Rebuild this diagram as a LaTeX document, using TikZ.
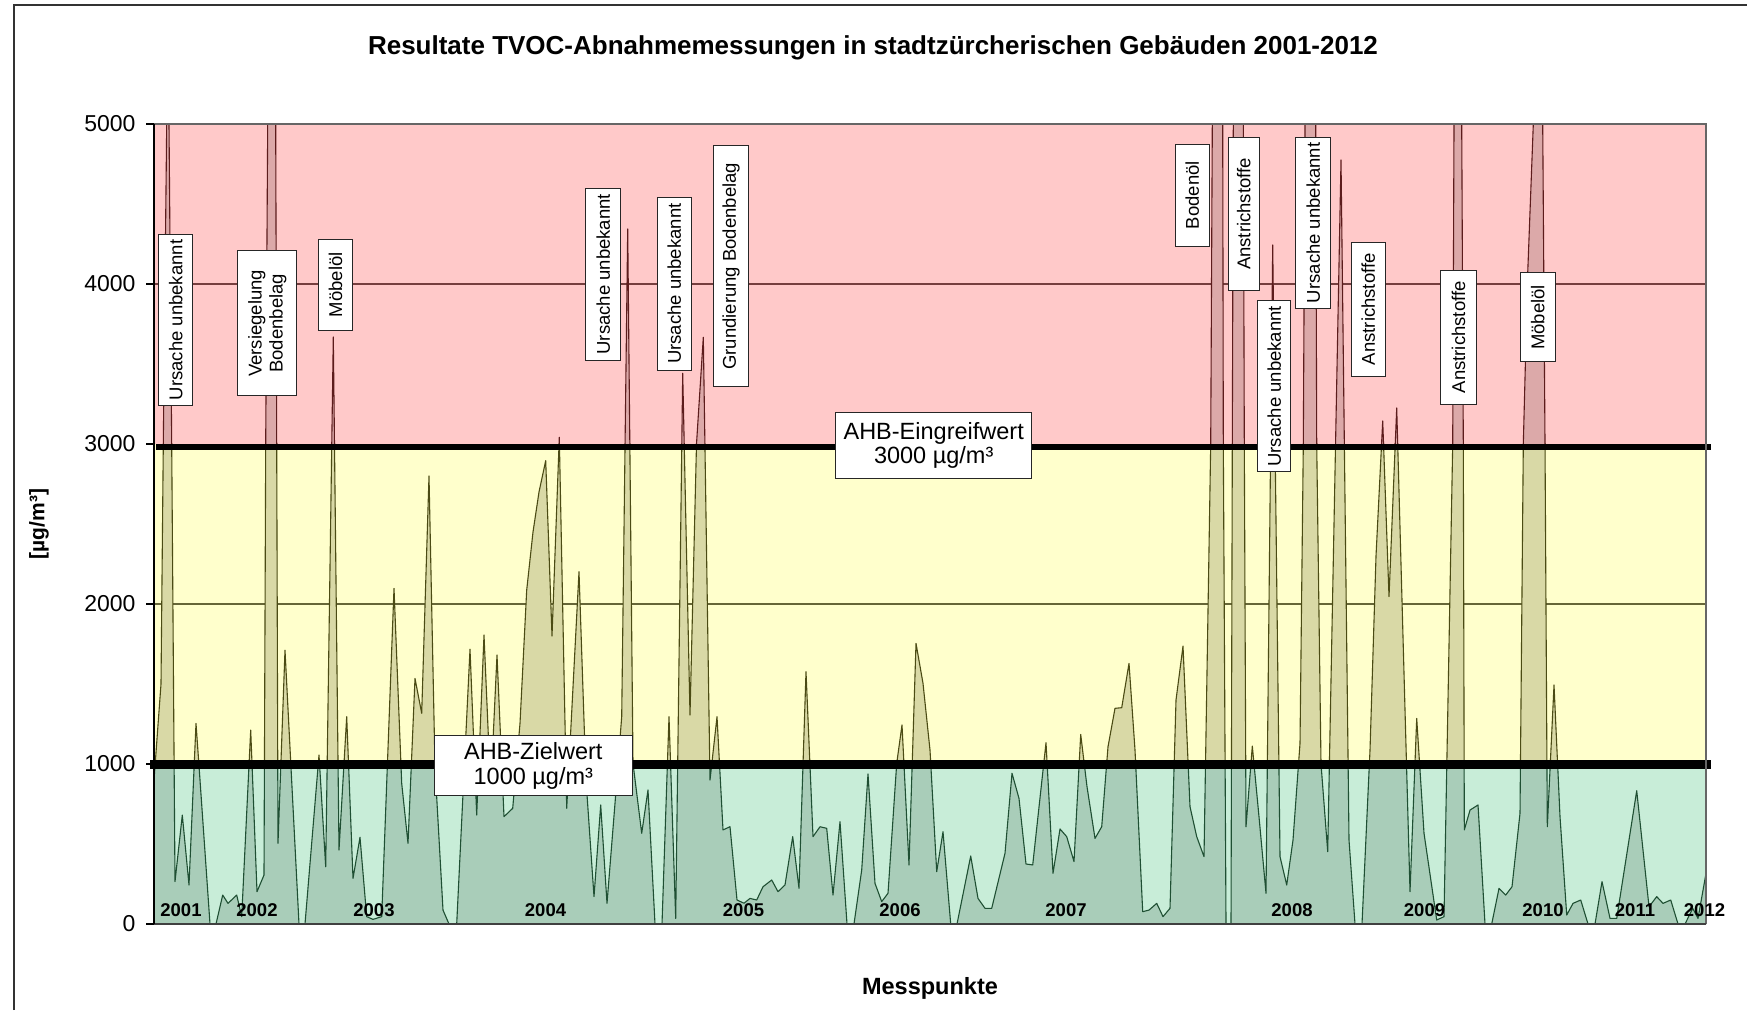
\documentclass[tikz,border=0pt]{standalone}
\usepackage{fontspec}
\setmainfont{Liberation Sans}
\usepackage{tikz}

\definecolor{bandgrn}{HTML}{C8EDD8}
\definecolor{areagrn}{HTML}{A9CDB9}
\definecolor{linegrn}{HTML}{1F4F33}
\definecolor{bandyel}{HTML}{FFFFCC}
\definecolor{areayel}{HTML}{D9D9A6}
\definecolor{lineyel}{HTML}{4B4B14}
\definecolor{bandred}{HTML}{FFC9C9}
\definecolor{areared}{HTML}{DCA9A9}
\definecolor{linered}{HTML}{5C1C1C}

\tikzset{
  cause/.style={draw=black!85, fill=white, line width=1pt, rotate=90, align=center,
    inner sep=0pt, font=\fontsize{18.5}{21}\selectfont},
  limit/.style={draw=black!85, fill=white, line width=1pt, align=center,
    inner sep=0pt, font=\fontsize{23.5}{24.5}\selectfont},
  year/.style={font=\bfseries\fontsize{18.5}{20}\selectfont},
}

% Messwerte (x in Pixel ab Achse, y in ug/m3)
\newcommand{\tvoc}{(0,0) -- (0,900) -- (7,1500) -- (9.3,3000) -- (12.7,5000) -- (14,8000)
 -- (15,5000) -- (17.7,3000) -- (21,265) -- (28.3,681) -- (35,244) -- (42,1254) -- (46,900)
 -- (56,0) -- (62,0) -- (68.7,181) -- (74,129) -- (82.7,181) -- (87.7,46) -- (96.7,1212)
 -- (103,202) -- (110,306) -- (111.7,3000) -- (113.7,5000) -- (117,9000) -- (121.7,5000)
 -- (122.7,3000) -- (124,504) -- (131,1712) -- (145,0) -- (151,0) -- (165,1056) -- (171.7,358)
 -- (179.3,3669) -- (185,462) -- (192.7,1296) -- (199,285) -- (206,542) -- (212.7,46)
 -- (219,29) -- (227.7,46) -- (240,2098) -- (247.7,879) -- (254,504) -- (261,1535)
 -- (267.7,1317) -- (275,2800) -- (281,983) -- (289,87) -- (295,0) -- (302.7,0) -- (316,1717)
 -- (322.7,681) -- (330,1806) -- (336.7,837) -- (343,1681) -- (350,671) -- (358.7,723)
 -- (366,1254) -- (372.7,2087) -- (379,2450) -- (385,2700) -- (391.7,2896) -- (398,1800)
 -- (405.3,3042) -- (412.7,723) -- (425,2202) -- (432,900) -- (440,171) -- (446.7,744)
 -- (453,129) -- (461,754) -- (467.7,1296) -- (473.7,4344) -- (479,1004) -- (487.7,567)
 -- (494,838) -- (501,0) -- (508,0) -- (515,1296) -- (521.7,35) -- (528.7,3442) -- (536,1306)
 -- (542.5,3000) -- (549.3,3667) -- (556,900) -- (563,1296) -- (569,588) -- (576,608)
 -- (583,150) -- (590,130) -- (596,160) -- (602.7,150) -- (609,233) -- (617.7,275) -- (624,202)
 -- (631,244) -- (638.7,546) -- (645,223) -- (652,1577) -- (659,546) -- (666,608)
 -- (672.7,598) -- (679,181) -- (686,640) -- (693,0) -- (700,0) -- (707.7,337) -- (714,938)
 -- (721,254) -- (727.7,140) -- (734,192) -- (742.7,1004) -- (748,1244) -- (755,369)
 -- (762,1754) -- (769,1504) -- (776,1087) -- (782.7,327) -- (789,577) -- (796.7,0) -- (803,0)
 -- (816.7,425) -- (824,160) -- (831,98) -- (837.7,98) -- (851,442) -- (858,942) -- (865,785)
 -- (872,375) -- (878.7,369) -- (892,1133) -- (899,317) -- (906,594) -- (912.7,546)
 -- (920,390) -- (926.7,1185) -- (933,858) -- (941,535) -- (947.7,608) -- (954,1108)
 -- (961,1348) -- (967.7,1352) -- (975,1629) -- (981,1087) -- (988.7,77) -- (995,87)
 -- (1002.7,129) -- (1009,46) -- (1016,98) -- (1022,1400) -- (1029,1737) -- (1036,733)
 -- (1042.7,546) -- (1050,421) -- (1056.7,3000) -- (1058.3,5000) -- (1062,9000) -- (1066,9000)
 -- (1068.7,5000) -- (1069.3,3000) -- (1072,0) -- (1077,0) -- (1078.3,3000) -- (1079.3,5000)
 -- (1084,9000) -- (1089.3,5000) -- (1090.3,3000) -- (1092,608) -- (1098.3,1112) -- (1105,670)
 -- (1112,192) -- (1118.7,4244) -- (1126,421) -- (1132.7,244) -- (1139,525) -- (1146,1129)
 -- (1149.3,3000) -- (1151,5000) -- (1156,9000) -- (1161.7,5000) -- (1162.7,3000)
 -- (1167,1000) -- (1173.7,452) -- (1187,4775) -- (1195,525) -- (1201,0) -- (1208,0)
 -- (1216,1087) -- (1222,2300) -- (1228.7,3144) -- (1235,2046) -- (1242.7,3225) -- (1256,202)
 -- (1262.7,1285) -- (1270,567) -- (1282.7,25) -- (1290,46) -- (1298.7,3000) -- (1300,5000)
 -- (1304,9000) -- (1307.7,5000) -- (1309.3,3000) -- (1310.3,588) -- (1316,712) -- (1324,744)
 -- (1331,0) -- (1337.7,0) -- (1345,223) -- (1351.7,181) -- (1358,233) -- (1366,692)
 -- (1369.3,3000) -- (1373.7,4069) -- (1379.3,5000) -- (1384,9000) -- (1388.7,5000)
 -- (1391,3000) -- (1393.3,608) -- (1400,1494) -- (1406,670) -- (1412.7,56) -- (1419,129)
 -- (1426.7,150) -- (1434,0) -- (1441,0) -- (1448,265) -- (1456,35) -- (1462.7,35)
 -- (1482.7,833) -- (1495,108) -- (1502.7,171) -- (1509,129) -- (1516.7,150) -- (1524,0)
 -- (1531,0) -- (1538.7,98) -- (1544,35) -- (1552,317) -- (1552,0) -- cycle}

\begin{document}
\begin{tikzpicture}[x=1pt,y=-1pt] % TVOC
  \useasboundingbox (0,0) rectangle (1747,1010);
  \draw[line width=2pt, black!80] (13.5,1010) -- (13.5,5) -- (1747,5);

  \node[font=\bfseries\fontsize{26}{28}\selectfont] (title) at (873,48)
    {Resultate TVOC-Abnahmemessungen in stadtzürcherischen Gebäuden 2001-2012};

  \begin{scope}[shift={(154,924)}, x=1pt, y=0.16pt]
    \fill[bandgrn] (0,0) rectangle (1552,1000);
    \fill[bandyel] (0,1000) rectangle (1552,3000);
    \fill[bandred] (0,3000) rectangle (1552,5000);
    \draw[line width=1.2pt, linered!85] (0,4000) -- (1552,4000);
    \draw[line width=1.2pt, lineyel!85] (0,2000) -- (1552,2000);

    \foreach \band/\lo/\hi in {grn/0/1000, yel/1000/3000, red/3000/5000} {
      \begin{scope}
        \clip (0,\lo) rectangle (1552,\hi);
        \filldraw[fill=area\band, draw=line\band, line width=1.1pt, line join=round] \tvoc;
      \end{scope}
    }

    \draw[line width=6.5pt] (2,2981) -- (1557,2981);
    \draw[line width=9pt] (-4,1000) -- (1557,1000);

    \draw[line width=1.2pt, black!60] (0,5000) -- (1552,5000) -- (1552,0);
    \draw[line width=1.5pt, black!75] (0,0) -- (1552,0);
    \draw[line width=2.5pt] (0,0) -- (0,5000);
    \foreach \v in {0,1000,...,5000} {
      \draw[line width=1.2pt] (-8,\v) -- (0,\v);
      \node[anchor=east, font=\fontsize{23}{25}\selectfont] (tick\v) at (-15,\v) {\v};
    }

    \node[year] (y2001) at (27,87) {2001};
    \node[year] (y2002) at (103,87) {2002};
    \node[year] (y2003) at (220,87) {2003};
    \node[year] (y2004) at (391.5,87) {2004};
    \node[year] (y2005) at (589.5,87) {2005};
    \node[year] (y2006) at (746,87) {2006};
    \node[year] (y2007) at (912,87) {2007};
    \node[year] (y2008) at (1138,87) {2008};
    \node[year] (y2009) at (1270.5,87) {2009};
    \node[year] (y2010) at (1389,87) {2010};
    \node[year] (y2011) at (1481,87) {2011};
    \node[year] (y2012) at (1550.5,87) {2012};
  \end{scope}

  \node[cause, minimum width=171.4pt, minimum height=33.7pt] (c1) at (175.8,320) {Ursache unbekannt};
  \node[cause, minimum width=144.7pt, minimum height=58.7pt] (c2) at (267.3,323.3) {Versiegelung\\Bodenbelag};
  \node[cause, minimum width=90.7pt, minimum height=33.6pt] (c3) at (335.5,284.7) {Möbelöl};
  \node[cause, minimum width=171.7pt, minimum height=35.3pt] (c4) at (603.3,274.2) {Ursache unbekannt};
  \node[cause, minimum width=172.7pt, minimum height=34pt] (c5) at (674.3,283.7) {Ursache unbekannt};
  \node[cause, minimum width=240.7pt, minimum height=35.4pt] (c6) at (731,266.3) {Grundierung Bodenbelag};
  \node[cause, minimum width=101.7pt, minimum height=33.7pt] (c7) at (1192.2,195.2) {Bodenöl};
  \node[cause, minimum width=153.4pt, minimum height=30.7pt] (c8) at (1243.7,214) {Anstrichstoffe};
  \node[cause, minimum width=170.7pt, minimum height=33.3pt] (c9) at (1274.3,386.3) {Ursache unbekannt};
  \node[cause, minimum width=171pt, minimum height=34.7pt] (c10) at (1313.3,222.8) {Ursache unbekannt};
  \node[cause, minimum width=133.7pt, minimum height=34.3pt] (c11) at (1368.2,309.2) {Anstrichstoffe};
  \node[cause, minimum width=134pt, minimum height=35.6pt] (c12) at (1458.5,337.3) {Anstrichstoffe};
  \node[cause, minimum width=89.3pt, minimum height=35.3pt] (c13) at (1537.7,317.3) {Möbelöl};

  \node[limit, minimum width=196.1pt, minimum height=65.8pt] (eingreif) at (933.7,445.2)
    {AHB-Eingreifwert\\3000 µg/m³};
  \node[limit, minimum width=198pt, minimum height=60.3pt] (ziel) at (533.3,765.8)
    {AHB-Zielwert\\1000 µg/m³};

  \node[rotate=90, font=\bfseries\fontsize{21}{23}\selectfont] (ylab) at (39,524) {[µg/m³]};
  \node[font=\bfseries\fontsize{23.5}{25}\selectfont] (xlab) at (930,988) {Messpunkte};
\end{tikzpicture}
\end{document}
